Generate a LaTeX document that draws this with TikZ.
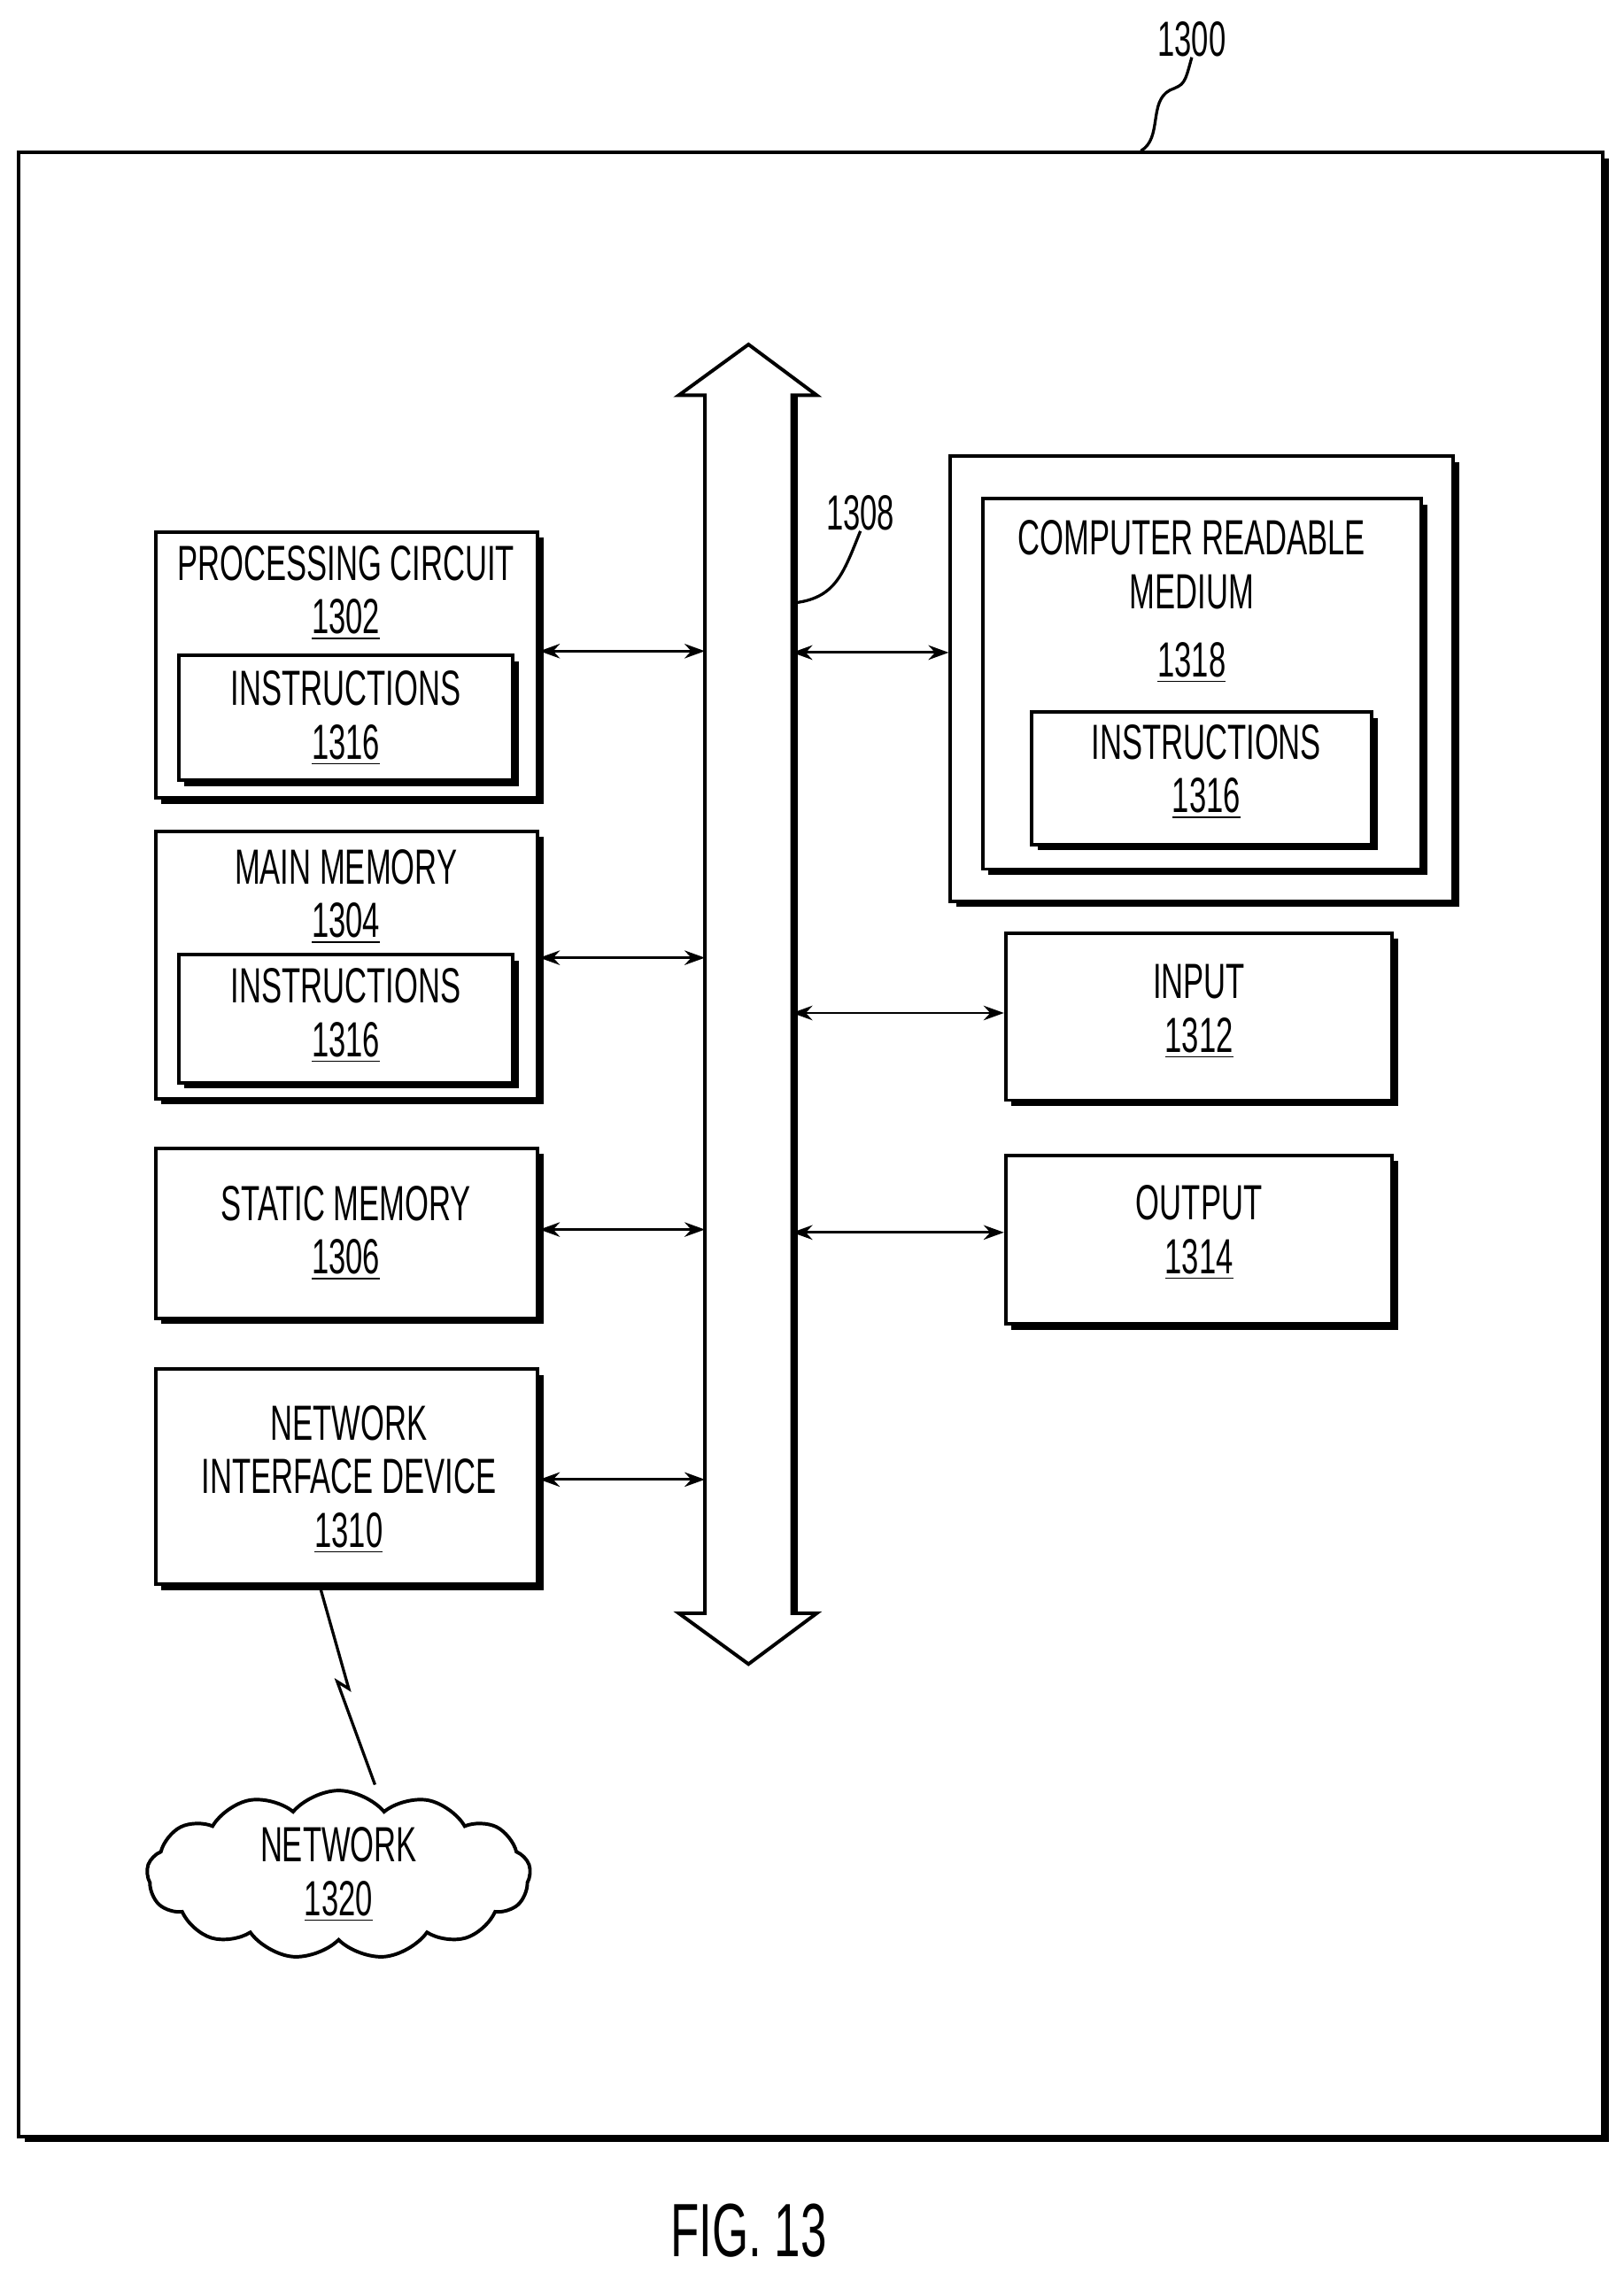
\documentclass[tikz,border=0pt]{standalone}
\usepackage{fontspec}
\setmainfont{Liberation Sans}
\usetikzlibrary{shapes.symbols,arrows.meta}
\newcommand\nt[1]{\scalebox{0.62}[1]{#1}}
\begin{document}
\begin{tikzpicture}[x=0.5pt,y=-0.5pt,
  box/.style={draw,line width=1.2pt,fill=white,inner sep=0pt},
  shad/.style={fill=black},
  txt/.style={align=center,font=\fontsize{17}{18.5}\selectfont,inner sep=0pt},
  arr/.style={{Stealth[length=7pt,width=5pt]}-{Stealth[length=7pt,width=5pt]},line width=0.9pt}]
\useasboundingbox (0,0) rectangle (1117,1564);
% outer frame
\fill[shad] (17,109) rectangle (1107,1474);
\node[box,minimum width=545pt,minimum height=682.5pt] (frame) at (558,787.5) {};
\node[txt] (l1300) at (820,27) {\nt{1300}};
\draw[line width=1pt] (frame.north -| 785,0) .. controls (800,95) and (790,70) .. (805,62) .. controls (815,58) .. (l1300.south);
% bus
\fill[shad] (545,272) rectangle (549,1110);
\draw[line width=1.2pt,fill=white] (485,272) -- (467,272) -- (515,237) -- (562,272) -- (545,272) -- (545,1110) -- (562,1110) -- (515,1145) -- (467,1110) -- (485,1110) -- cycle;
\coordinate (busL) at (485,0);
\coordinate (busR) at (545,0);
\node[txt] (l1308) at (592,353) {\nt{1308}};
\draw[line width=1pt] (545,415) .. controls (575,412) and (580,395) .. (l1308.south);
% left boxes
\fill[shad] (111,370) rectangle (374,553);
\node[box,minimum width=131.5pt,minimum height=91.5pt] (pc) at (238.5,457.5) {};
\node[txt] (pct) at (238,408) {\nt{PROCESSING CIRCUIT}\\\nt{\underline{1302}}};
\fill[shad] (127,455) rectangle (357,541);
\node[box,minimum width=115pt,minimum height=43pt] (pci) at (238,494) {};
\node[txt] (pcit) at (238,494) {\nt{INSTRUCTIONS}\\\nt{\underline{1316}}};

\fill[shad] (111,576) rectangle (374,760);
\node[box,minimum width=131.5pt,minimum height=92pt] (mm) at (238.5,664) {};
\node[txt] (mmt) at (238,617) {\nt{MAIN MEMORY}\\\nt{\underline{1304}}};
\fill[shad] (127,661) rectangle (357,749);
\node[box,minimum width=115pt,minimum height=44pt] (mmi) at (238,701) {};
\node[txt] (mmit) at (238,699) {\nt{INSTRUCTIONS}\\\nt{\underline{1316}}};

\fill[shad] (111,794) rectangle (374,911);
\node[box,minimum width=131.5pt,minimum height=58.5pt] (sm) at (238.5,848.5) {};
\node[txt] (smt) at (238,848.5) {\nt{STATIC MEMORY}\\\nt{\underline{1306}}};

\fill[shad] (111,946) rectangle (374,1094);
\node[box,minimum width=131.5pt,minimum height=74pt] (ni) at (238.5,1016) {};
\node[txt] (nit) at (240,1018) {\nt{NETWORK}\\\nt{INTERFACE DEVICE}\\\nt{\underline{1310}}};

% right boxes
\fill[shad] (658,318) rectangle (1004,624);
\node[box,minimum width=173pt,minimum height=153pt] (crmo) at (827,467) {};
\fill[shad] (680,347) rectangle (982,602);
\node[box,minimum width=151pt,minimum height=127.5pt] (crm) at (827,470.5) {};
\node[txt] (crmt) at (820,414) {\nt{COMPUTER READABLE}\\\nt{MEDIUM}\\[5pt]\nt{\underline{1318}}};
\fill[shad] (714,494) rectangle (948,585);
\node[box,minimum width=117pt,minimum height=45.5pt] (crmi) at (827,535.5) {};
\node[txt] (crmit) at (830,531) {\nt{INSTRUCTIONS}\\\nt{\underline{1316}}};

\fill[shad] (696,646) rectangle (962,761);
\node[box,minimum width=133pt,minimum height=57.5pt] (in) at (825,699.5) {};
\node[txt] (int) at (825,696) {\nt{INPUT}\\\nt{\underline{1312}}};
\fill[shad] (696,799) rectangle (962,915);
\node[box,minimum width=133pt,minimum height=58pt] (out) at (825,853) {};
\node[txt] (outt) at (825,848) {\nt{OUTPUT}\\\nt{\underline{1314}}};

% connectors
\draw[arr] (pc.east |- 0,448) -- (busL |- 0,448);
\draw[arr] (mm.east |- 0,659) -- (busL |- 0,659);
\draw[arr] (sm.east |- 0,846) -- (busL |- 0,846);
\draw[arr] (ni.east |- 0,1018) -- (busL |- 0,1018);
\draw[arr] (busR |- 0,449) -- (crmo.west |- 0,449);
\draw[arr] (busR |- 0,697) -- (in.west |- 0,697);
\draw[arr] (busR |- 0,848) -- (out.west |- 0,848);

% network
\node[cloud,cloud puffs=13,cloud puff arc=100,draw,line width=1.2pt,minimum width=132pt,minimum height=58pt,fill=white,inner sep=0pt] (net) at (233,1290) {};
\node[txt] (nett) at (233,1290) {\nt{NETWORK}\\\nt{\underline{1320}}};
\draw[line width=1pt] (ni.south -| 220,0) -- (240,1162) -- (232,1157) -- (258,1228);

\node[txt,font=\fontsize{26}{28}\selectfont] (fig) at (515,1535) {\nt{FIG. 13}};
\end{tikzpicture}
\end{document}
